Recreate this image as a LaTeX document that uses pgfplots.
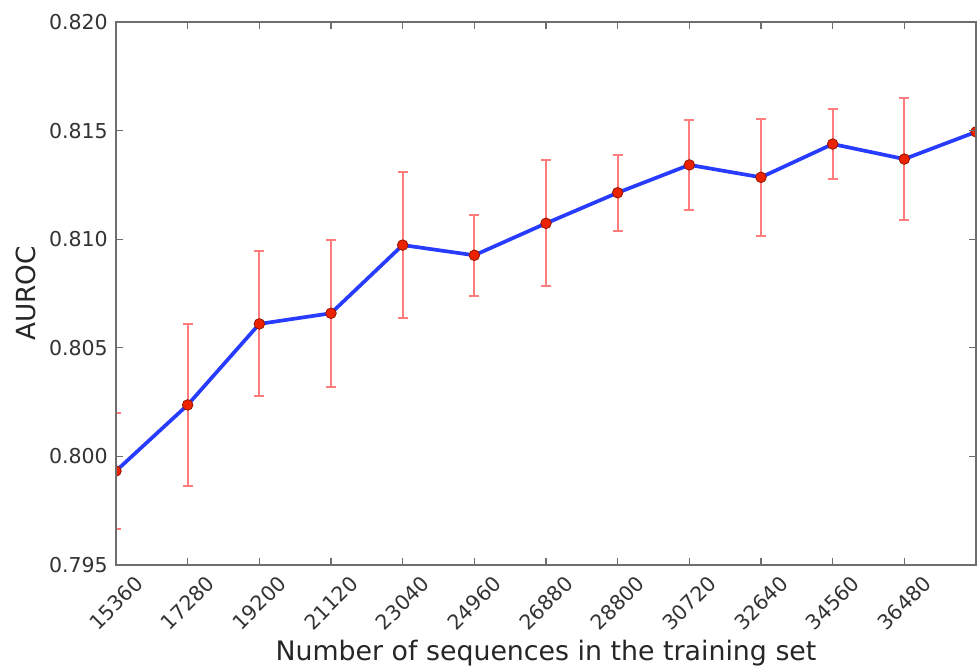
\documentclass[border=0pt]{standalone}
\usepackage{fontspec}
\setmainfont{DejaVu Sans}
\usepackage{pgfplots}
\usepackage{pgfplotstable}
\pgfplotsset{compat=1.18}
\definecolor{lineblue}{RGB}{40,60,255}
\definecolor{errred}{RGB}{255,125,125}
\definecolor{mkred}{RGB}{235,35,0}
\definecolor{mkedge}{RGB}{150,20,0}
\definecolor{spine}{RGB}{110,110,110}
\pgfplotstableread{
x y e
15360 0.79933 0.00269
17280 0.80237 0.00373
19200 0.80610 0.00334
21120 0.80659 0.00338
23040 0.80973 0.00336
24960 0.80926 0.00186
26880 0.81073 0.00290
28800 0.81214 0.00175
30720 0.81342 0.00209
32640 0.81285 0.00269
34560 0.81438 0.00161
36480 0.81369 0.00281
38400 0.81494 0.00000
}\data
\begin{document}
\begin{tikzpicture}
\begin{axis}[
  scale only axis,
  width=860pt, height=543pt,
  xmin=15360, xmax=38400,
  ymin=0.795, ymax=0.820,
  xtick={15360,17280,19200,21120,23040,24960,26880,28800,30720,32640,34560,36480},
  ytick={0.795,0.800,0.805,0.810,0.815,0.820},
  scaled x ticks=false, scaled y ticks=false,
  /pgf/number format/assume math mode=true,
  xticklabel style={/pgf/number format/1000 sep={}, font=\fontsize{20.5}{24}\selectfont, color=black!80, rotate=45, anchor=center, xshift=-26.9pt, yshift=-26.9pt, inner sep=0pt},
  yticklabel style={/pgf/number format/.cd, fixed, fixed zerofill, precision=3, /tikz/.cd, font=\fontsize{20.5}{24}\selectfont, color=black!80, anchor=east, inner sep=0pt, xshift=-8pt},
  xlabel={Number of sequences in the training set},
  ylabel={AUROC},
  xlabel style={font=\fontsize{26.8}{30}\selectfont, color=black!85, at={(axis description cs:0.5,0)}, anchor=north, inner sep=0pt, yshift=-75pt},
  ylabel style={font=\fontsize{26.3}{30}\selectfont, color=black!85, at={(axis description cs:0,0.5)}, anchor=center, inner sep=0pt, yshift=90pt},
  axis line style={spine, line width=1.5pt},
  tick style={spine, line width=1.2pt},
  major tick length=7pt,
  tick align=inside,
  axis on top=true,
  clip=true,
  clip marker paths=true,
]
\addplot[lineblue, line width=3.7pt, mark=*, mark size=5.3pt,
  mark options={fill=mkred, draw=mkedge, line width=0.8pt},
  error bars/.cd, y dir=both, y explicit,
  error bar style={draw=errred, line width=2pt},
  error mark=-, error mark options={draw=errred, line width=2pt, mark size=5pt, rotate=90}]
  table[x=x, y=y, y error=e]{\data};
\end{axis}
\pgfresetboundingbox
\path (current axis.south west) ++(-116pt,-105pt) coordinate (bl);
\path (current axis.north east) ++(3pt,22pt) coordinate (tr);
\path[use as bounding box] (bl) rectangle (tr);
\end{tikzpicture}
\end{document}
